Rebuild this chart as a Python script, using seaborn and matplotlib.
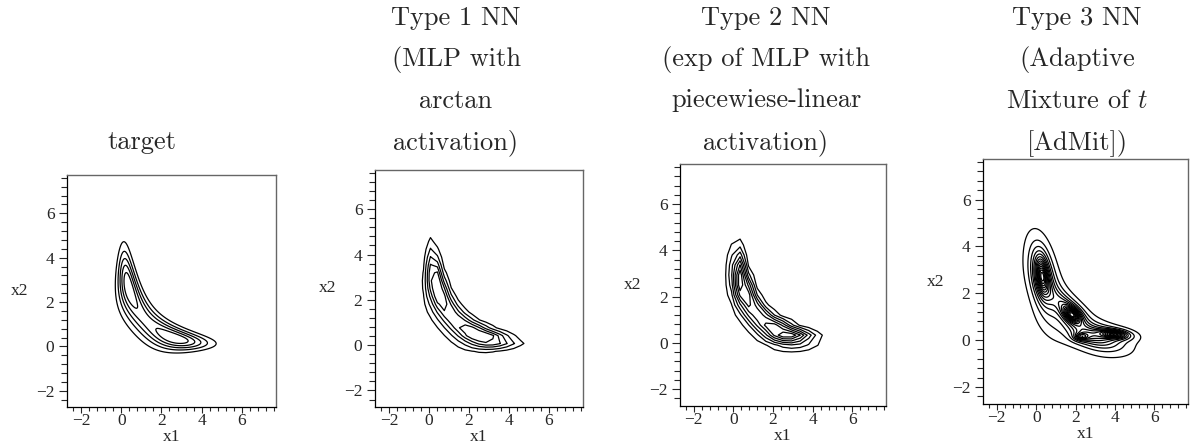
import numpy as np
import matplotlib.pyplot as plt
import seaborn as sns
from matplotlib.ticker import MultipleLocator

# target: exp(-0.5*(A x1^2 x2^2 + x1^2 + x2^2 - 2B x1x2 - 2C1 x1 - 2C2 x2))
gm_A = 1.0
gm_B = 0.0
gm_C1 = 3.0
gm_C2 = 3.0

# contour levels as fractions of the maximum density
target_levels = [1/6, 2/6, 3/6, 4/6, 5/6]
type1_levels = [0.16, 0.32, 0.48, 0.62, 0.76]
type2_levels = [1/8, 2/8, 3/8, 4/8, 5/8, 6/8, 7/8]
admit_levels = [k / 17 for k in range(1, 17)]

# NN approximations are only known on a coarse grid
type1_grid_points = 31
type2_grid_points = 25
type1_power = 1.0
type2_power = 1.25

# AdMit: mixture of Student t components
admit_weights = [0.12, 0.08, 0.08, 0.02, 0.30, 0.25, 0.17]
admit_means = [[0.30, 2.75], [1.82, 1.08], [3.90, 0.25], [2.30, 0.15],
               [0.35, 2.60], [3.00, 0.15], [1.60, 1.30]]
admit_covs = [
    [[0.06, -0.04], [-0.04, 0.35]],
    [[0.10, -0.03], [-0.03, 0.06]],
    [[0.30, -0.02], [-0.02, 0.02]],
    [[0.08, 0.00], [0.00, 0.015]],
    [[0.30, -0.30], [-0.30, 1.40]],
    [[1.30, -0.30], [-0.30, 0.25]],
    [[0.60, -0.45], [-0.45, 0.55]],
]
admit_df = 3.0

titles = [
    ["target"],
    ["Type 1 NN", "(MLP with", "arctan", "activation)"],
    ["Type 2 NN", "(exp of MLP with", "piecewiese-linear", "activation)"],
    ["Type 3 NN", "(Adaptive", "Mixture of $t$", "[AdMit])"],
]

x_range = (-2.7, 7.7)
y_range = (-2.73, 7.73)


def gelman_meng(x1, x2, power=1.0):
    q = gm_A * x1**2 * x2**2 + x1**2 + x2**2 - 2 * gm_B * x1 * x2 - 2 * gm_C1 * x1 - 2 * gm_C2 * x2
    return np.exp(-0.5 * power * q)


def mixture_t(x1, x2):
    dens = np.zeros_like(x1)
    for w, m, c in zip(admit_weights, admit_means, admit_covs):
        c = np.array(c)
        inv = np.linalg.inv(c)
        d1 = x1 - m[0]
        d2 = x2 - m[1]
        q = inv[0, 0] * d1**2 + 2 * inv[0, 1] * d1 * d2 + inv[1, 1] * d2**2
        dens += w / (2 * np.pi * np.sqrt(np.linalg.det(c))) * (1 + q / admit_df) ** (-(admit_df / 2 + 1))
    return dens


sns.set_style("ticks")
plt.rcParams['font.family'] = ['Liberation Serif', 'DejaVu Serif']
plt.rcParams['mathtext.fontset'] = 'cm'
plt.rcParams['axes.unicode_minus'] = True

fig = plt.figure(figsize=(11.9, 4.45), dpi=100)
W, H = 1190, 445

# left, right, top, bottom of each plot frame in pixels
frames = [(67, 276, 175, 407), (375, 583, 170, 407), (680, 886, 164, 406), (983, 1188, 159, 404)]
title_centers = [142, 456, 766, 1077]

fine = np.linspace(-2.7, 7.7, 300)

fields = []
X, Y = np.meshgrid(fine, fine)
Z = gelman_meng(X, Y)
fields.append((X, Y, Z, target_levels))
g1 = np.linspace(-2.7, 7.7, type1_grid_points)
X1, Y1 = np.meshgrid(g1, g1)
Z = gelman_meng(X1, Y1, type1_power)
fields.append((X1, Y1, Z, type1_levels))
g2 = np.linspace(-2.7, 7.7, type2_grid_points)
X2, Y2 = np.meshgrid(g2, g2)
Z = gelman_meng(X2, Y2, type2_power)
fields.append((X2, Y2, Z, type2_levels))
Z = mixture_t(X, Y)
fields.append((X, Y, Z, admit_levels))

for i, (l, r, t, b) in enumerate(frames):
    ax = fig.add_axes([l / W, 1 - b / H, (r - l) / W, (b - t) / H])
    Xg, Yg, Zg, lev = fields[i]
    ax.contour(Xg, Yg, Zg, levels=[f * Zg.max() for f in lev], colors='black', linewidths=0.9)
    ax.set_xlim(*x_range)
    ax.set_ylim(*y_range)
    ax.xaxis.set_major_locator(MultipleLocator(2))
    ax.xaxis.set_minor_locator(MultipleLocator(0.4))
    ax.yaxis.set_major_locator(MultipleLocator(2))
    ax.yaxis.set_minor_locator(MultipleLocator(0.4))
    ax.tick_params(axis='x', which='major', direction='out', length=4, width=0.8, pad=0.5, labelsize=12.5)
    ax.tick_params(axis='x', which='minor', direction='out', length=3, width=0.8)
    ax.tick_params(axis='y', which='major', direction='out', length=6, width=0.8, pad=3, labelsize=12.5)
    ax.tick_params(axis='y', which='minor', direction='out', length=4, width=0.8)
    ax.tick_params(top=False, right=False, which='both')
    for s in ['top', 'right']:
        ax.spines[s].set_color('#666666')
        ax.spines[s].set_linewidth(1.0)
    for s in ['left', 'bottom']:
        ax.spines[s].set_color('black')
        ax.spines[s].set_linewidth(0.9)
    ax.set_xlabel('x1', fontsize=12.5, va='center')
    ax.set_ylabel('x2', fontsize=12.5, rotation=0, ha='center', va='center')
    ax.xaxis.set_label_coords(0.5, -30 / (b - t))
    ax.yaxis.set_label_coords(-47 / (r - l), 0.5)

    lines = titles[i]
    for j, line in enumerate(lines):
        ypix = 149 - 41.5 * (len(lines) - 1 - j)
        fig.text(title_centers[i] / W, 1 - ypix / H, line, ha='center', va='baseline',
                 fontsize=19, family=['cmr10'])

fig.savefig('out.png', dpi=100)
